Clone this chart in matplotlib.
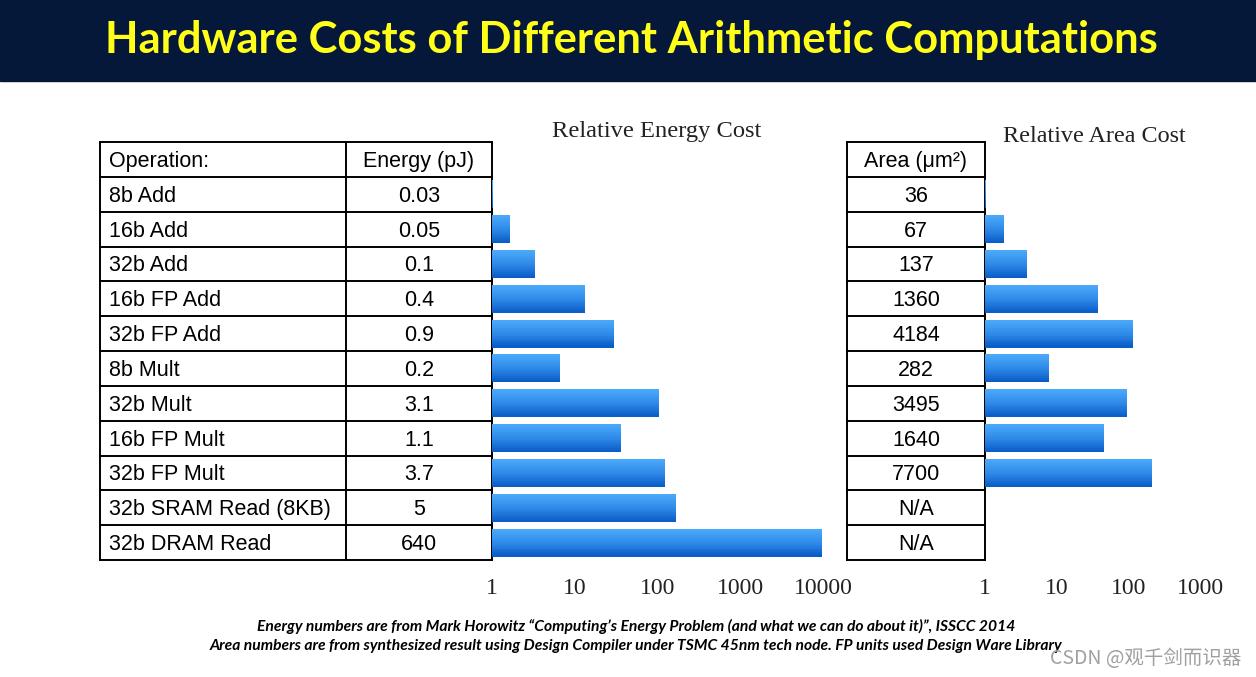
import matplotlib
matplotlib.use('Agg')
import matplotlib.pyplot as plt
import numpy as np
from matplotlib.colors import LinearSegmentedColormap
from matplotlib.patches import Rectangle

W, H = 1256, 677

# ---------------- data ----------------
operations = ["8b Add", "16b Add", "32b Add", "16b FP Add", "32b FP Add", "8b Mult",
              "32b Mult", "16b FP Mult", "32b FP Mult", "32b SRAM Read (8KB)", "32b DRAM Read"]
energy_pj = ["0.03", "0.05", "0.1", "0.4", "0.9", "0.2", "3.1", "1.1", "3.7", "5", "640"]
area_um2 = ["36", "67", "137", "1360", "4184", "282", "3495", "1640", "7700", "N/A", "N/A"]
# relative bar lengths as drawn (log scale)
energy_rel = [1.03, 1.67, 3.33, 13.3, 30, 6.67, 103, 36.7, 123, 167, 9800]
area_rel = [1.03, 1.86, 3.8, 37.8, 116, 7.8, 97, 45.6, 214, np.nan, np.nan]
energy_ticks = [1, 10, 100, 1000, 10000]
area_ticks = [1, 10, 100, 1000]

title = "Hardware Costs of Different Arithmetic Computations"
foot1 = "Energy numbers are from Mark Horowitz \u201cComputing\u2019s Energy Problem (and what we can do about it)\u201d, ISSCC 2014"
foot2 = "Area numbers are from synthesized result using Design Compiler under TSMC 45nm tech node. FP units used Design Ware Library"
watermark = "CSDN @观千剑而识器"

fig = plt.figure(figsize=(12.56, 6.77), dpi=100)
fig.patch.set_facecolor('white')


def px_axes(x0, y0, x1, y1, **kw):
    return fig.add_axes([x0 / W, 1 - y1 / H, (x1 - x0) / W, (y1 - y0) / H], **kw)


ov = px_axes(0, 0, W, H)
ov.set_xlim(0, W)
ov.set_ylim(H, 0)
ov.axis('off')

renderer = fig.canvas.get_renderer()


def fit(t, target_w):
    bb = t.get_window_extent(renderer)
    t.set_fontsize(t.get_fontsize() * target_w / bb.width)


# banner
ov.add_patch(Rectangle((0, 0), W, 81, color='#06183a', zorder=0))
t = ov.text(631, 40, title, ha='center', va='center', color='#ffff1a',
            fontfamily='Lato', fontweight='bold', fontsize=30)
fit(t, 1053)

# tables
y_top, y_bot = 142, 560
nrows = len(operations) + 1
row_h = (y_bot - y_top) / nrows
tfont = dict(fontfamily='Liberation Sans', fontsize=15.5, color='black')
dy = 2


def draw_grid(xs):
    for i in range(nrows + 1):
        ov.plot([xs[0], xs[-1]], [y_top + i * row_h] * 2, color='black', lw=1.4, zorder=3,
                solid_capstyle='projecting')
    for x in xs:
        ov.plot([x, x], [y_top, y_bot], color='black', lw=1.4, zorder=3)


draw_grid([100, 346, 492])
draw_grid([847, 985])

ov.text(109, y_top + row_h / 2 + dy, "Operation:", ha='left', va='center', **tfont)
ov.text(419, y_top + row_h / 2 + dy, "Energy (pJ)", ha='center', va='center', **tfont)
ov.text(916, y_top + row_h / 2 + dy, "Area (\u03bcm\u00b2)", ha='center', va='center', **tfont)
for i, (op, e, a) in enumerate(zip(operations, energy_pj, area_um2)):
    yc = y_top + (i + 1.5) * row_h + dy
    ov.text(109, yc, op, ha='left', va='center', **tfont)
    ov.text(419, yc, e, ha='center', va='center', **tfont)
    ov.text(916, yc, a, ha='center', va='center', **tfont)

# chart titles
t = ov.text(657, 132, "Relative Energy Cost", ha='center', va='center',
            fontfamily='Liberation Serif', fontsize=17, color='#222222')
fit(t, 209)
t = ov.text(1094, 136, "Relative Area Cost", ha='center', va='center',
            fontfamily='Liberation Serif', fontsize=17, color='#222222')
fit(t, 182)

# footnotes
t = ov.text(636, 626, foot1, ha='center', va='center', fontfamily='Lato',
            fontweight='bold', fontstyle='italic', fontsize=10, color='black')
fit(t, 758)
t = ov.text(636, 646, foot2, ha='center', va='center', fontfamily='Lato',
            fontweight='bold', fontstyle='italic', fontsize=10, color='black')
fit(t, 848)

# watermark
t = ov.text(1146, 658, watermark, ha='center', va='center',
            fontfamily=['Noto Sans CJK SC', 'DejaVu Sans'], fontsize=12, color='#a0a0a0')
fit(t, 191)

# gradient bars
cmap = LinearSegmentedColormap.from_list('bar', ['#4aa8fa', '#2f8ae8', '#0b5ec8'])
nslice = 14
bar_h = 0.8


def gradient_barh(ax, vals):
    vals = np.asarray(vals, dtype=float)
    idx = np.arange(len(vals))
    mask = ~np.isnan(vals)
    for k in range(nslice):
        yc = idx[mask] - bar_h / 2 + (k + 0.5) * bar_h / nslice
        ax.barh(yc, vals[mask] - 1, left=1, height=bar_h / nslice * 1.05,
                color=cmap(k / (nslice - 1)), linewidth=0)


def setup(ax, ticks, xmax):
    ax.set_xscale('log')
    ax.set_xlim(1, xmax)
    ax.set_ylim(len(operations) - 0.5, -0.5)
    for s in ax.spines.values():
        s.set_visible(False)
    ax.set_yticks([])
    ax.set_xticks(ticks)
    ax.set_xticklabels([str(v) for v in ticks])
    ax.xaxis.set_minor_locator(matplotlib.ticker.NullLocator())
    ax.tick_params(axis='x', length=0, pad=13, labelsize=17)
    for lab in ax.get_xticklabels():
        lab.set_fontfamily('Liberation Serif')
        lab.set_color('#222222')
    ax.patch.set_alpha(0)


y0b = y_top + row_h
ax1 = px_axes(492, y0b, 823, y_bot)
gradient_barh(ax1, energy_rel)
setup(ax1, energy_ticks, 1e4)

ax2 = px_axes(985, y0b, 1200, y_bot)
gradient_barh(ax2, area_rel)
setup(ax2, area_ticks, 1e3)

fig.savefig('out.png', dpi=100)
